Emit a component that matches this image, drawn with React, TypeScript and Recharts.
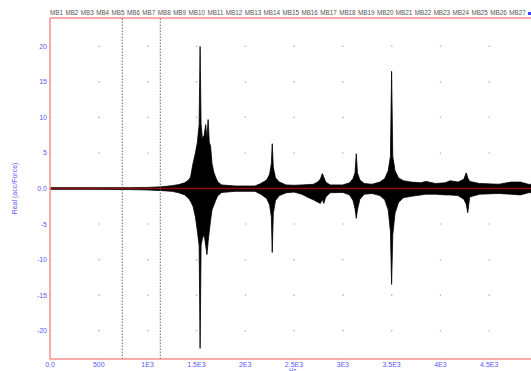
import { ComposedChart, Area, XAxis, YAxis, CartesianGrid, ReferenceLine, Label } from "recharts"

// measurement names shown across the top
const seriesNames = Array.from({ length: 27 }, (_, i) => `MB${i + 1}`)

// frequency points (Hz) and the envelope of all overlaid FRF curves
const freqHz = [
  0, 400, 800, 1000, 1150, 1250, 1320, 1380, 1420, 1440, 1465, 1490, 1510, 1528, 1538, 1548, 1562, 1580, 1595, 1608,
  1620, 1632, 1645, 1660, 1680, 1700, 1720, 1760, 1900, 2100, 2160, 2220, 2250, 2268, 2277, 2288, 2310, 2350, 2420,
  2500, 2580, 2650, 2700, 2740, 2770, 2790, 2805, 2825, 2870, 3000, 3070, 3105, 3125, 3138, 3150, 3175, 3220, 3300,
  3380, 3430, 3465, 3488, 3500, 3512, 3535, 3570, 3620, 3700, 3800, 3850, 3950, 4050, 4100, 4180, 4240, 4265, 4280,
  4300, 4400, 4600, 4720, 4820, 4900, 5000,
]
const upperEnv = [
  0.12, 0.12, 0.12, 0.15, 0.25, 0.4, 0.55, 0.8, 1.2, 1.6, 3.5, 5, 6.5, 9, 20, 9, 7, 7.5, 9, 7,
  9.7, 6.5, 6, 3.5, 2.2, 1.5, 0.9, 0.5, 0.35, 0.35, 0.7, 1.2, 2, 3.5, 6.3, 3, 1.5, 0.9, 0.5,
  0.45, 0.5, 0.55, 0.6, 0.9, 1.3, 2.1, 1.6, 0.9, 0.5, 0.5, 0.8, 1.4, 2.2, 4.9, 2.2, 1.2, 0.7, 0.6,
  0.9, 1.4, 2.5, 4.5, 16.5, 4.5, 2.5, 1.5, 1.1, 0.9, 0.8, 1, 0.7, 0.8, 1.1, 0.9, 1.3, 2.2, 1.5,
  1, 0.7, 0.6, 0.9, 0.9, 0.6, 0.5,
]
const lowerEnv = [
  -0.12, -0.12, -0.15, -0.2, -0.3, -0.4, -0.6, -0.9, -1.4, -1.8, -2.5, -4, -6, -8, -22.5, -8, -7, -6.5, -8, -9.3,
  -7.5, -6, -4.5, -3, -2.3, -1.6, -1, -0.55, -0.4, -0.4, -0.8, -1.4, -2.3, -4, -9, -3.5, -1.7, -1, -0.6,
  -0.5, -0.8, -1.3, -1.6, -1.9, -2.1, -1.5, -2.1, -1.2, -0.6, -0.55, -0.9, -1.7, -2.8, -4.2, -3, -1.5, -0.8, -0.7,
  -1, -1.6, -3, -6, -13.5, -6.5, -3.5, -2, -1.3, -1.1, -0.9, -0.8, -0.8, -0.9, -0.9, -1, -1.5, -2.2, -3.4,
  -1.2, -0.8, -0.7, -0.8, -0.9, -0.6, -0.5,
]

const xTicks = [0, 500, 1000, 1500, 2000, 2500, 3000, 3500, 4000, 4500, 5000]
const xTickLabels = ["0.0", "500", "1E3", "1.5E3", "2E3", "2.5E3", "3E3", "3.5E3", "4E3", "4.5E3", "5E3"]
const yTicks = [-20, -15, -10, -5, 0, 5, 10, 15, 20]
const cursorsHz = [740, 1130]

const data = freqHz.map((f, i) => ({ f, band: [lowerEnv[i], upperEnv[i]] }))

const AXIS = "#ff8c8c"
const TICK = "#5a5aff"
const FONT = '"Liberation Sans", Arial, sans-serif'

function XTick(props: any) {
  const { x, y, payload } = props
  const i = xTicks.indexOf(payload.value)
  return (
    <text x={x} y={y} dy={6} textAnchor="middle" fontSize={7} fill={TICK} fontFamily={FONT}>
      {xTickLabels[i]}
    </text>
  )
}

function YTick(props: any) {
  const { x, y, payload } = props
  return (
    <text x={x} y={y} dy={2.5} textAnchor="end" fontSize={7} fill={TICK} fontFamily={FONT}>
      {payload.value === 0 ? "0.0" : payload.value}
    </text>
  )
}

export default function App() {
  return (
    <div
      style={{
        position: "absolute",
        left: 0,
        top: 0,
        width: 531,
        height: 371,
        overflow: "hidden",
        background: "#fff",
        fontFamily: FONT,
      }}
    >
      <div
        style={{
          position: "absolute",
          left: 50,
          top: 9,
          width: 476,
          display: "flex",
          justifyContent: "space-between",
          fontSize: 6.3,
          lineHeight: "8px",
          color: "#555",
        }}
      >
        {seriesNames.map((n) => (
          <span key={n}>{n}</span>
        ))}
      </div>
      <div style={{ position: "absolute", left: 528, top: 12, width: 3, height: 3, background: "#4040ff" }} />
      <ComposedChart width={548} height={371} data={data} margin={{ top: 18, right: 10, bottom: 0, left: 0 }}>
        <CartesianGrid
          horizontal={false}
          stroke="#bdbdbd"
          strokeWidth={1.2}
          strokeDasharray="1.2 34.32"
          strokeDashoffset={7.7}
        />
        <CartesianGrid vertical={false} stroke="#bdbdbd" strokeWidth={1.2} strokeDasharray="1.2 47.55" />
        <XAxis
          dataKey="f"
          type="number"
          domain={[0, 5000]}
          ticks={xTicks}
          interval={0}
          height={12}
          tickSize={0}
          tickMargin={2}
          axisLine={{ stroke: AXIS, strokeWidth: 1.5 }}
          tick={<XTick />}
        />
        <YAxis
          type="number"
          domain={[-24, 24]}
          ticks={yTicks}
          interval={0}
          width={50}
          tickSize={0}
          tickMargin={3}
          axisLine={{ stroke: AXIS, strokeWidth: 1.5 }}
          tick={<YTick />}
        >
          <Label
            content={({ viewBox }: any) => {
              const cx = 15
              const cy = viewBox.y + viewBox.height / 2
              return (
                <text
                  x={cx}
                  y={cy}
                  transform={`rotate(-90, ${cx}, ${cy})`}
                  textAnchor="middle"
                  dominantBaseline="middle"
                  fontSize={7}
                  fill={TICK}
                  fontFamily={FONT}
                >
                  Real (acc/Force)
                </text>
              )
            }}
          />
        </YAxis>
        <ReferenceLine y={24} stroke={AXIS} strokeWidth={1.5} />
        {cursorsHz.map((c) => (
          <ReferenceLine key={c} x={c} stroke="#666" strokeWidth={1} strokeDasharray="1.5 1.5" />
        ))}
        <Area
          type="linear"
          dataKey="band"
          stroke="#000"
          strokeWidth={0.8}
          fill="#000"
          fillOpacity={1}
          isAnimationActive={false}
          dot={false}
          activeDot={false}
        />
        <ReferenceLine y={0} stroke="#8b1010" strokeWidth={1.4} />
      </ComposedChart>
      <div style={{ position: "absolute", left: 289, top: 367, fontSize: 6, lineHeight: "6px", color: TICK }}>Hz</div>
    </div>
  )
}
